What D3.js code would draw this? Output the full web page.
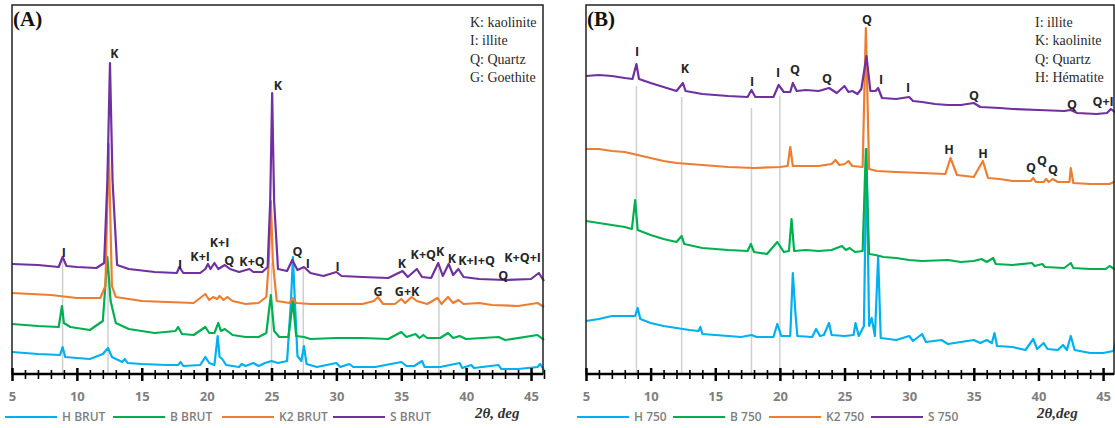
<!DOCTYPE html>
<html>
<head>
<meta charset="utf-8">
<script src="https://cdn.jsdelivr.net/npm/d3@7"></script>
<style>
  body { margin: 0; background: #fff; }
  svg { display: block; }
</style>
</head>
<body>
<div id="chart"></div>
<script>
// XRD patterns of the raw clays (A) and of the same clays fired at 750 (B)
var svgWidth = 1115;
var svgHeight = 428;

var twoThetaTicks = [5, 10, 15, 20, 25, 30, 35, 40, 45];
var seriesColors = ["#00B0F0", "#00B050", "#ED7D31", "#7030A0"];
var seriesNamesA = ["H BRUT", "B BRUT", "K2 BRUT", "S BRUT"];
var seriesNamesB = ["H 750", "B 750", "K2 750", "S 750"];
var keyA = ["K: kaolinite", "I: illite", "Q: Quartz", "G: Goethite"];
var keyB = ["I: illite", "K: kaolinite", "Q: Quartz", "H: Hématite"];

// [2theta, intensity in a.u.] (patterns stacked with offsets, as in the figure)
var hBrut = [[5,22],[7,20],[8.7,19],[8.9,27],[9.1,17],[10,16],[11,15],[12,20],[12.4,26],[12.7,17],
  [13.5,12],[13.7,15],[13.9,11],[15,10],[17,9],[17.8,9],[18,12],[18.2,8],[19.5,9],[19.9,17],[20.2,11],
  [20.6,9],[20.85,38],[21,17],[21.2,15],[21.5,9],[22.5,7],[22.7,10],[23,8],[23.2,9],[23.6,11],[24,8],
  [24.5,11],[25,13],[25.5,11],[26.2,13],[26.5,73],[26.65,117],[26.8,73],[27,18],[27.3,13],[27.5,28],
  [27.7,10],[28.5,7],[30,11],[30.3,7],[31,10],[31.3,7],[33,7],[35,12],[35.4,8],[36,8],[36.6,13],
  [36.8,7],[38,7],[39.5,11],[39.7,6],[40.4,9],[40.6,6],[42.5,9],[42.7,5],[44,5],[45.5,7],[45.7,10],[46,4]];
var bBrut = [[5,50],[7,48],[8.6,47],[8.85,68],[9,51],[9.5,47],[10,46],[11,44],[12,53],[12.35,117],
  [12.6,73],[13,51],[14,45],[16,41],[17.6,43],[17.8,47],[18.1,40],[19,39],[19.9,47],[20.2,41],[20.6,41],
  [20.9,51],[21.1,43],[21.4,45],[22,39],[23,37],[24,37],[24.6,41],[24.95,79],[25.2,43],[25.6,37],
  [26.3,37],[26.65,73],[26.9,38],[27.5,37],[28,35],[30,36],[32,36],[34,35],[35,42],[35.4,37],[36.1,40],
  [36.4,36],[36.7,39],[37,36],[38,36],[38.6,41],[39,36],[39.5,38],[40,35],[42.5,37],[43,34],[45.5,39],[46,34]];
var k2Brut = [[5,81],[8,79],[10,76],[11.8,76],[12.2,88],[12.45,230],[12.7,88],[13,77],[15,73],[17,72],
  [19,71],[19.9,80],[20.2,74],[20.5,77],[20.8,75],[21,78],[21.3,74],[21.6,77],[22,73],[23,70],[24,71],
  [24.6,77],[24.8,113],[24.95,173],[25.1,113],[25.4,73],[26.4,71],[26.6,76],[26.9,71],[28,70],[32,70],
  [32.9,73],[33.2,77],[33.6,70],[34.5,70],[35,75],[35.3,71],[35.8,77],[36.2,73],[37,70],[37.8,76],
  [38.1,70],[38.6,77],[39,71],[39.4,74],[39.8,70],[41,71],[42,69],[44,68],[45.5,71],[46,67]];
var sBrut = [[5,110],[7,109],[8.6,107],[8.9,117],[9.2,108],[10,107],[11.5,106],[12.1,111],[12.35,193],
  [12.55,311],[12.75,193],[13.1,109],[14,105],[16,102],[17.7,101],[17.9,107],[18.2,101],[19.5,101],
  [19.9,105],[20.1,110],[20.3,105],[20.6,111],[20.9,105],[21.4,109],[21.8,105],[22.5,102],[23.3,105],
  [23.6,102],[24.3,102],[24.7,107],[24.9,173],[25.05,281],[25.2,173],[25.5,105],[26.2,103],[26.6,114],
  [27,104],[27.5,107],[28,101],[29,98],[30,102],[30.4,98],[32,97],[34,96],[35.1,103],[35.5,97],
  [36.2,105],[36.6,97],[37.3,96],[37.85,111],[38.2,98],[38.65,110],[39,99],[39.4,105],[39.8,97],
  [41,95],[43,94],[45,95],[45.6,101],[46,93]];

var h750 = [[5,53],[6,55],[7,58],[8,58],[8.8,58],[9,66],[9.2,55],[10,51],[11,48],[12,46],[13,44],
  [13.7,43],[13.85,47],[14,40],[15,39],[16,38],[17,37],[17.8,39],[18.2,37],[19.5,37],[19.8,50],[20.1,38],
  [20.8,38],[21,101],[21.2,61],[21.35,38],[22.5,37],[22.8,45],[23.1,38],[23.4,39],[23.8,51],[24,39],
  [25,38],[25.7,39],[25.85,51],[26.1,38],[26.5,48],[26.7,225],[26.9,48],[27.1,56],[27.35,38],[27.6,118],
  [27.8,36],[29,34],[30,38],[30.3,33],[31,40],[31.3,32],[32.5,34],[33,30],[34,32],[35,34],[35.5,31],
  [36,34],[36.4,31],[36.6,41],[36.8,28],[38,27],[39,24],[39.6,35],[39.9,25],[40.4,31],[40.7,25],
  [41.5,24],[41.9,29],[42.2,24],[42.5,38],[42.8,24],[44,21],[45,21],[45.8,23],[46,33]];
var b750 = [[5,153],[6,151],[7,149],[8,147],[8.55,145],[8.8,174],[9,144],[10,139],[11,135],[12,132],
  [12.4,138],[12.6,130],[14,126],[15,125],[16,124],[17.5,123],[17.75,130],[18,122],[19,120],[19.8,132],
  [20.3,122],[20.7,123],[20.9,155],[21.1,123],[22,124],[23,123],[24,124],[24.8,128],[25.1,124],
  [25.4,126],[25.8,122],[26.4,123],[26.65,225],[26.9,120],[27.4,119],[28,117],[29,116],[30,114],
  [31,113],[33,114],[34,112],[35,113],[35.6,115],[36,112],[36.5,116],[36.7,110],[38,109],[39.5,111],
  [39.7,108],[40.3,110],[40.5,107],[42,106],[42.5,111],[42.7,106],[44,105],[45.2,105],[45.5,108],[46,104]];
var k2750 = [[5,225],[6,225],[7,223],[8,222],[9,219],[10,216],[11,213],[12,211],[13,210],[14,209],
  [16,207],[18,206],[20,207],[20.6,208],[20.8,227],[21,208],[22,208],[23,208],[24,210],[24.3,214],
  [24.6,209],[25,210],[25.3,213],[25.6,208],[26.4,207],[26.65,346],[26.9,205],[27.5,203],[29,202],
  [31,201],[32.8,200],[33.2,216],[33.7,199],[35,197],[35.7,213],[36.1,196],[37,195],[38,193],[39.4,193],
  [39.6,196],[39.8,192],[40.4,192],[40.6,195],[40.8,192],[41.1,195],[41.5,192],[42.4,192],[42.5,206],
  [42.7,191],[44,190],[45.5,190],[46,193]];
var s750 = [[5,298],[6,299],[7,298],[8,296],[8.6,295],[8.9,310],[9.1,295],[10,291],[11,287],[12,283],
  [12.5,291],[12.7,283],[14,280],[16,278],[17.5,277],[17.8,284],[18.1,277],[19.5,277],[19.9,289],
  [20.3,282],[20.8,282],[21,291],[21.3,283],[22,284],[23,283],[23.8,286],[24.4,281],[25,288],[25.3,282],
  [25.6,283],[26,280],[26.3,285],[26.7,318],[27,283],[27.4,283],[27.6,286],[27.9,276],[29,275],[30,277],
  [30.3,273],[31,272],[32,270],[33,269],[34,269],[35,271],[35.5,267],[37,266],[38,265],[40,264],
  [42,263],[42.5,264],[43,261],[44.5,260],[45.3,261],[45.6,265],[46,261]];

// grey guide lines: [2theta, top intensity]
var guidesA = [[8.9,113],[12.4,111],[25.0,111],[27.45,106],[37.9,110]];
var guidesB = [[8.9,288],[12.4,277],[17.8,266],[20.0,278]];

// phase labels: [text, 2theta, intensity]
var labelsA = [["K",12.9,321],["K",25.5,289],["I",9.0,122],["I",17.95,110],["K+I",19.5,118],
  ["K+I",21.0,132],["Q",21.75,114],["K+Q",23.5,113],["Q",27.0,123],["I",27.8,111],["I",30.1,108],
  ["K",35.05,111],["K+Q",36.7,120],["K",38.0,123],["K",38.9,116],["K+I+Q",40.8,114],["Q",42.85,99],
  ["K+Q+I",44.35,117],["G",33.2,83],["G+K",35.45,83]];
var labelsB = [["I",8.95,323],["K",12.66,306],["I",17.84,293],["I",19.86,302],["Q",21.17,305],
  ["Q",23.65,296],["Q",26.74,355],["I",27.82,295],["I",29.91,287],["Q",35.02,279],["Q",42.6,270],
  ["Q+I",45.0,273],["H",33.09,225],["H",35.72,221],["Q",39.43,207],["Q",40.28,214],["Q",41.13,205]];

var svg = d3.select("#chart")
  .append("svg")
  .attr("width", svgWidth)
  .attr("height", svgHeight);

var axisY = 374;
var yScale = d3.scaleLinear().domain([0, 369]).range([axisY, 5]);

function drawPanel(p) {
  var x = d3.scaleLinear().domain([5, 46]).range([p.left, p.right]);
  var g = svg.append("g");

  // guides under the traces
  g.selectAll("line.guide")
    .data(p.guides)
    .enter()
    .append("line")
    .attr("x1", d => x(d[0]))
    .attr("x2", d => x(d[0]))
    .attr("y1", d => yScale(d[1]))
    .attr("y2", axisY)
    .attr("stroke", "#cfcfcf")
    .attr("stroke-width", 1.5);

  var line = d3.line()
    .x(d => x(d[0]))
    .y(d => yScale(d[1]));

  g.selectAll("path.trace")
    .data(p.series)
    .enter()
    .append("path")
    .attr("d", line)
    .attr("fill", "none")
    .attr("stroke", (d, i) => seriesColors[i])
    .attr("stroke-width", 2.2)
    .attr("stroke-linejoin", "round");

  // frame
  g.append("rect")
    .attr("x", p.left)
    .attr("y", 5)
    .attr("width", p.frameRight - p.left)
    .attr("height", axisY - 5)
    .attr("fill", "none")
    .attr("stroke", "#222")
    .attr("stroke-width", 1.5);

  // ticks every degree, crossing the axis
  var tickAxis = d3.axisBottom(x).tickValues(d3.range(5, 47)).tickSize(5).tickFormat("");
  g.append("g")
    .attr("transform", `translate(0, ${axisY})`)
    .call(tickAxis)
    .call(a => a.select(".domain").remove())
    .call(a => a.selectAll(".tick line")
      .attr("stroke", "#000")
      .attr("y1", d => d % 5 === 0 ? -6 : -4)
      .attr("y2", d => d % 5 === 0 ? 7 : 5)
      .attr("stroke-width", d => d % 5 === 0 ? 2.5 : 1.6));

  g.append("line")
    .attr("x1", x(5)).attr("x2", p.frameRight)
    .attr("y1", axisY).attr("y2", axisY)
    .attr("stroke", "#000")
    .attr("stroke-width", 2.5);

  var labelAxis = d3.axisBottom(x).tickValues(twoThetaTicks).tickSize(0).tickPadding(18);
  g.append("g")
    .attr("transform", `translate(0, ${axisY})`)
    .call(labelAxis)
    .call(a => a.select(".domain").remove())
    .call(a => a.selectAll("text")
      .attr("fill", "#7f7f7f")
      .style("font-family", "'Open Sans', sans-serif")
      .style("font-size", "13px")
      .style("font-weight", "bold"));

  // phase labels
  g.selectAll("text.phase")
    .data(p.labels)
    .enter()
    .append("text")
    .attr("x", d => x(d[1]))
    .attr("y", d => yScale(d[2]))
    .attr("dy", "0.36em")
    .attr("text-anchor", "middle")
    .style("font-family", "'Open Sans', sans-serif")
    .style("font-size", "12.5px")
    .style("font-weight", "bold")
    .attr("fill", "#262626")
    .text(d => d[0]);

  // panel title
  g.append("text")
    .attr("x", p.left + 1)
    .attr("y", 26)
    .style("font-family", "'Liberation Serif', serif")
    .style("font-size", "21px")
    .style("font-weight", "bold")
    .attr("fill", "#111")
    .text(p.title);

  // key
  g.selectAll("text.key")
    .data(p.key)
    .enter()
    .append("text")
    .attr("x", p.keyX)
    .attr("y", (d, i) => 27 + i * 18.3)
    .style("font-family", "'Liberation Serif', serif")
    .style("font-size", "14px")
    .attr("fill", "#2a2a2a")
    .text(d => d);

  // legend
  var leg = g.selectAll("g.leg")
    .data(p.names)
    .enter()
    .append("g")
    .attr("transform", (d, i) => `translate(${p.legendX[i]}, 417)`);
  leg.append("line")
    .attr("x1", 0).attr("x2", 52)
    .attr("stroke", (d, i) => seriesColors[i])
    .attr("stroke-width", 2);
  leg.append("text")
    .attr("x", 57)
    .attr("dy", "0.36em")
    .style("font-family", "'Open Sans', sans-serif")
    .style("font-size", "12px")
    .style("font-weight", "600")
    .attr("fill", "#7f7f7f")
    .text(d => d);

  g.append("text")
    .attr("x", p.unitX)
    .attr("y", 418)
    .style("font-family", "'Liberation Serif', serif")
    .style("font-size", "15px")
    .style("font-weight", "bold")
    .style("font-style", "italic")
    .attr("fill", "#333")
    .text(p.unit);
}

drawPanel({
  left: 12, right: 544, frameRight: 543,
  series: [hBrut, bBrut, k2Brut, sBrut],
  names: seriesNamesA, guides: guidesA, labels: labelsA,
  title: "(A)", key: keyA, keyX: 470,
  legendX: [5, 113, 222, 333], unitX: 475, unit: "2θ, deg"
});

drawPanel({
  left: 586, right: 1116, frameRight: 1114,
  series: [h750, b750, k2750, s750],
  names: seriesNamesB, guides: guidesB, labels: labelsB,
  title: "(B)", key: keyB, keyX: 1035,
  legendX: [577, 673, 769, 871], unitX: 1037, unit: "2θ,deg"
});
</script>
</body>
</html>
